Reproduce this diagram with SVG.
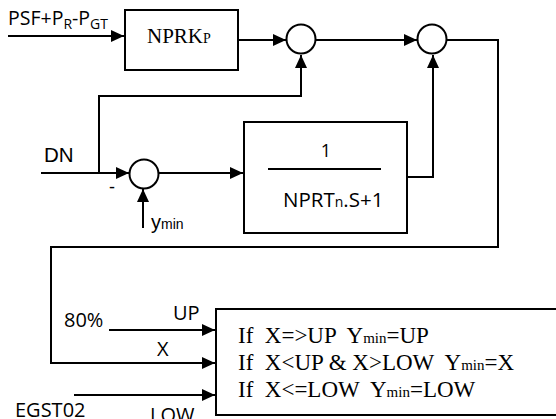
<svg xmlns="http://www.w3.org/2000/svg" width="556" height="419" viewBox="0 0 556 419">
<defs>
<style>
.ln{fill:none;stroke:#000;stroke-width:2}
.bx{fill:#fff;stroke:#000;stroke-width:2}
.sans{font-family:"Liberation Sans",Arial,sans-serif;fill:#000}
.cal{font-family:"Open Sans","Liberation Sans",sans-serif;fill:#000}
.ser{font-family:"Liberation Serif","Times New Roman",serif;fill:#000}
</style>
<marker id="ah" markerUnits="userSpaceOnUse" markerWidth="14" markerHeight="12" refX="13" refY="6" orient="auto">
<path d="M0,0 L13,6 L0,12 Z" fill="#000"/>
</marker>
</defs>
<rect width="556" height="419" fill="#fff"/>
<g id="connectors">
<path class="ln" d="M8,36 H124" marker-end="url(#ah)"/>
<path class="ln" d="M238,40 H286" marker-end="url(#ah)"/>
<path class="ln" d="M316,40 H417" marker-end="url(#ah)"/>
<path class="ln" d="M41,173 H129" marker-end="url(#ah)"/>
<path class="ln" d="M99,173 V96 H301 V55" marker-end="url(#ah)"/>
<path class="ln" d="M159,173 H243" marker-end="url(#ah)"/>
<path class="ln" d="M143,228 V189" marker-end="url(#ah)"/>
<path class="ln" d="M407,177 H433 V55" marker-end="url(#ah)"/>
<path class="ln" d="M447,40 H498 V247 H51 V363 H215" marker-end="url(#ah)"/>
<path class="ln" d="M109,330 H215" marker-end="url(#ah)"/>
<path class="ln" d="M74,395 H215" marker-end="url(#ah)"/>
</g>
<g id="input-psf">
<text class="cal" x="8" y="25" font-size="19.5">PSF+P<tspan font-size="14" dy="4">R</tspan><tspan dy="-4">-P</tspan><tspan font-size="14" dy="4">GT</tspan></text>
</g>
<g id="nprk">
<rect class="bx" x="125" y="10" width="113" height="60"/>
<text class="ser" x="147" y="43" font-size="21">NPRK<tspan font-size="14">P</tspan></text>
</g>
<g id="sum1"><circle class="bx" cx="301" cy="39" r="14.5"/></g>
<g id="sum2"><circle class="bx" cx="432" cy="39" r="14.5"/></g>
<g id="dn"><text class="sans" x="44" y="162" font-size="20.5">DN</text></g>
<g id="sum3">
<circle class="bx" cx="144" cy="174" r="14.5"/>
<text class="sans" x="109" y="193" font-size="18">-</text>
</g>
<g id="ymin"><text class="sans" x="151" y="229" font-size="20">y<tspan font-size="14">min</tspan></text></g>
<g id="lag">
<rect class="bx" x="244" y="122" width="163" height="111"/>
<text class="cal" x="326" y="157" font-size="18" text-anchor="middle">1</text>
<line class="ln" x1="268" y1="169" x2="381" y2="169"/>
<text class="cal" x="283" y="207" font-size="20.5">NPRT<tspan font-size="14">n</tspan>.S+1</text>
</g>
<g id="labels">
<text class="cal" x="64" y="327" font-size="20">80%</text>
<text class="cal" x="173" y="320" font-size="20">UP</text>
<text class="cal" x="157" y="356" font-size="20">X</text>
<text class="cal" x="15" y="417" font-size="20">EGST02</text>
<text class="cal" x="150" y="422" font-size="20">LOW</text>
</g>
<g id="limiter">
<rect class="bx" x="216" y="309" width="345" height="106"/>
<text class="ser" x="238" y="343" font-size="23" xml:space="preserve">If  X=&gt;UP  Y<tspan font-size="15">min</tspan>=UP</text>
<text class="ser" x="238" y="370" font-size="23" xml:space="preserve">If  X&lt;UP &amp; X&gt;LOW  Y<tspan font-size="15">min</tspan>=X</text>
<text class="ser" x="238" y="397" font-size="23" xml:space="preserve">If  X&lt;=LOW  Y<tspan font-size="15">min</tspan>=LOW</text>
</g>
</svg>
